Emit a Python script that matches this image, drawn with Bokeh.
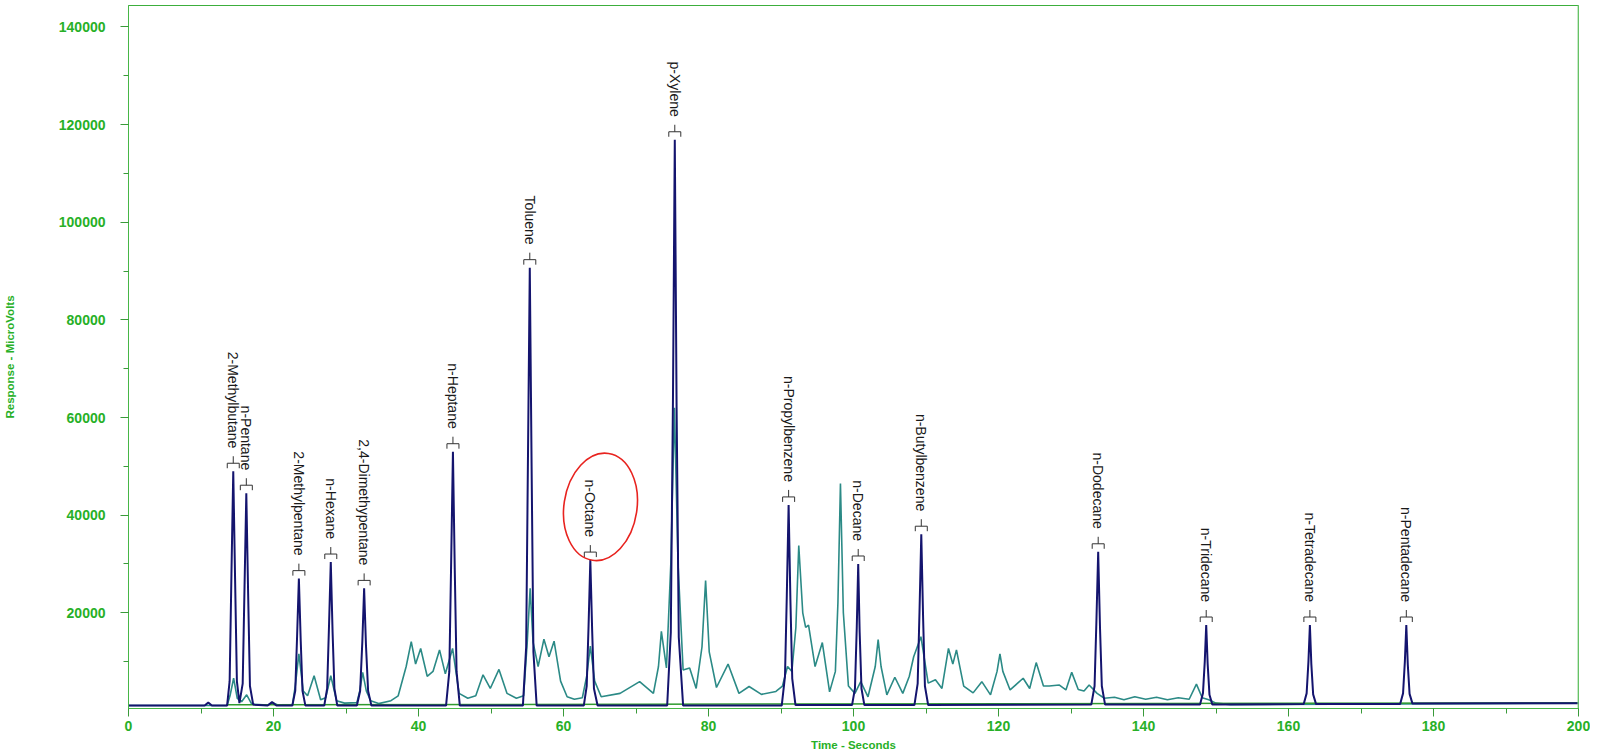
import math
from bokeh.plotting import figure
from bokeh.models import Range1d, SingleIntervalTicker, Span, NumeralTickFormatter
from bokeh.core.properties import value
from bokeh.embed import file_html
from bokeh.resources import INLINE

# ---------------- data ----------------
# standard mix trace (navy): retention time (s) vs response (uV)
navy_t = [0, 10.5, 11.0, 11.5, 13.6, 13.95, 14.2, 14.45, 14.7, 14.95, 15.3, 15.75, 16.0, 16.25, 16.5, 16.75, 17.2,
          19.2, 19.8, 20.4,
          22.6, 23.0, 23.25, 23.5, 23.75, 24.0, 24.4,
          27.0, 27.4, 27.65, 27.9, 28.15, 28.4, 28.8,
          31.5, 31.95, 32.25, 32.5, 32.75, 33.05, 33.5,
          43.8, 44.25, 44.5, 44.75, 45.0, 45.25, 45.7,
          54.4, 54.85, 55.1, 55.35, 55.6, 55.85, 56.3,
          62.8, 63.2, 63.45, 63.7, 63.95, 64.2, 64.7,
          74.3, 74.8, 75.1, 75.35, 75.6, 75.9, 76.5,
          90.1, 90.55, 90.8, 91.05, 91.3, 91.55, 92.0,
          99.8, 100.2, 100.45, 100.65, 100.85, 101.1, 101.5,
          108.4, 108.85, 109.1, 109.35, 109.6, 109.85, 110.3,
          132.8, 133.25, 133.5, 133.75, 134.0, 134.25, 134.7,
          147.8, 148.2, 148.45, 148.65, 148.85, 149.1, 149.5,
          162.1, 162.5, 162.75, 162.95, 163.15, 163.4, 163.8,
          175.4, 175.8, 176.05, 176.25, 176.45, 176.7, 177.1, 200]
navy_y = [1000, 1000, 1600, 1000, 1000, 6000, 28000, 49000, 27000, 6000, 1500, 5500, 25000, 44500, 24000, 5000, 1200,
          1000, 1700, 1000,
          1000, 4000, 15000, 27000, 14500, 4000, 1000,
          1000, 4500, 17000, 30400, 16000, 4500, 1000,
          1000, 4000, 14000, 25000, 13500, 4000, 1000,
          1000, 8000, 30000, 53000, 29000, 8000, 1000,
          1000, 13000, 52000, 90700, 50000, 12000, 1000,
          1000, 5000, 17000, 30800, 16500, 4500, 1000,
          1000, 16000, 64000, 116900, 62000, 15000, 1000,
          1000, 7000, 23500, 42100, 22500, 6500, 1100,
          1100, 4500, 17000, 30000, 16000, 4500, 1100,
          1100, 5500, 20000, 36100, 19000, 5000, 1100,
          1200, 5000, 18000, 32500, 17000, 5000, 1200,
          1200, 3500, 10000, 17500, 9500, 3200, 1200,
          1300, 3500, 10000, 17500, 9500, 3300, 1300,
          1300, 3500, 10000, 17500, 9500, 3400, 1400, 1500]

# sample trace (teal)
teal_t = [0, 13.6, 14.0, 14.5, 15.0, 15.6, 16.3, 17.0, 19.2, 19.9, 20.6, 22.6, 23.0, 23.5,
          24.1, 24.7, 25.6, 26.5, 27.2, 27.9, 28.7, 29.8, 31.5, 31.9, 32.3, 32.8, 33.4, 34.5,
          36.2, 37.2, 38.3, 39.0, 39.6, 40.3, 41.2, 42.0, 42.9, 43.7, 44.7, 45.6, 46.8, 47.9,
          48.9, 49.9, 51.1, 52.2, 53.5, 54.5, 55.0, 55.4, 55.8, 56.5, 57.3, 58.0, 58.7, 59.6,
          60.5, 61.5, 62.6, 63.2, 63.7, 64.3, 65.2, 67.8, 70.5, 72.4, 73.1, 73.5, 74.2, 74.8,
          75.3, 75.8, 76.5, 77.4, 78.3, 79.1, 79.6, 80.1, 81.1, 82.7, 84.2, 85.6, 87.3, 89.3,
          90.2, 90.9, 91.5, 92.05, 92.45, 93.0, 93.4, 93.8, 94.7, 95.7, 96.7, 97.5, 97.85, 98.2,
          98.6, 99.3, 100.2, 101.0, 102.0, 103.0, 103.4, 103.8, 104.6, 105.7, 106.8, 107.7, 108.3, 109.3,
          110.3, 111.3, 112.2, 113.1, 113.7, 114.2, 115.2, 116.5, 117.7, 118.9, 119.8, 120.2, 120.6, 121.6,
          123.4, 124.3, 125.2, 126.2, 127.0, 128.4, 129.3, 130.1, 131.0, 131.8, 132.5, 133.6,
          134.6, 136.0, 137.3, 138.8, 140.3, 141.8, 143.3, 144.8, 146.3, 147.3, 148.1, 149.0,
          150.0, 152.0, 200.0]
teal_y = [1000, 1000, 3000, 6600, 2500, 1800, 3200, 1300, 1100, 1600, 1100, 1100, 5000, 11600,
          4000, 3000, 7100, 2200, 2600, 7100, 2000, 1500, 1600, 4000, 7800, 4000, 2000, 1400,
          2000, 3000, 9000, 14100, 9500, 12700, 7000, 8000, 12400, 7500, 12700, 3500, 2500, 3000,
          7300, 4500, 8400, 3500, 2500, 3000, 14000, 25000, 14000, 9000, 14600, 11000, 14200, 6000,
          2800, 2300, 2600, 7000, 13200, 6000, 2800, 3500, 5900, 3500, 9000, 16200, 8700, 30000,
          62000, 30000, 8300, 8700, 4500, 13000, 26600, 12000, 4700, 9500, 3500, 4900, 3300, 3900,
          5000, 9000, 8000, 17000, 33800, 20000, 17000, 17500, 9000, 13900, 3800, 8000, 22000, 46500,
          20000, 5000, 3500, 5900, 2800, 9000, 14500, 9000, 3200, 6800, 3500, 7000, 11000, 15100,
          5600, 6300, 4500, 12700, 9500, 12400, 5000, 3600, 5900, 3200, 8000, 11600, 8000, 4200,
          6600, 4500, 9800, 5000, 5000, 5200, 4200, 7800, 4300, 4000, 5200, 3500,
          2500, 2700, 2200, 2800, 2300, 2700, 2200, 2600, 2300, 5400, 2600, 2200,
          1500, 1200, 1500]

# integration baseline (green)
base_t = [13.5, 200]
base_y = [1150, 1550]

# peak labels
label_names = ["2-Methylbutane", "n-Pentane", "2-Methylpentane", "n-Hexane",
               "2,4-Dimethypentane", "n-Heptane", "Toluene", "n-Octane", "p-Xylene",
               "n-Propylbenzene", "n-Decane", "n-Butylbenzene", "n-Dodecane",
               "n-Tridecane", "n-Tetradecane", "n-Pentadecane"]
label_t = [14.45, 16.25, 23.5, 27.9, 32.5, 44.75, 55.35, 63.7, 75.35, 91.05, 100.65,
           109.35, 133.75, 148.65, 162.95, 176.25]
label_y = [49000, 44500, 27000, 30400, 25000, 53000, 90700, 30800, 116900, 42100, 30000,
           36100, 32500, 17500, 17500, 17500]

x_ticks_step = 20
y_ticks_step = 20000

# ---------------- figure ----------------
X0, X1 = 0, 200
Y0, Y1 = 400, 144400
FRAME_W, FRAME_H = 1450, 703

p = figure(frame_width=FRAME_W, frame_height=FRAME_H, output_backend="svg", toolbar_location=None,
           x_range=Range1d(X0, X1), y_range=Range1d(Y0, Y1),
           min_border_left=121, min_border_right=12, min_border_top=5, min_border_bottom=0)
p.background_fill_color = "white"
p.border_fill_color = "white"
p.xgrid.visible = False
p.ygrid.visible = False
p.outline_line_color = "#3cae3c"
p.outline_line_width = 1

GREEN = "#27b027"
AXIS_GREEN = "#46b646"
for ax in (p.xaxis[0], p.yaxis[0]):
    ax.axis_line_color = AXIS_GREEN
    ax.major_tick_line_color = "#3a9a3a"
    ax.minor_tick_line_color = "#3a9a3a"
    ax.major_tick_in = 0
    ax.minor_tick_in = 0
    ax.major_tick_out = 8
    ax.minor_tick_out = 5
    ax.major_label_text_color = GREEN
    ax.major_label_text_font = "Liberation Sans"
    ax.major_label_text_font_style = "bold"
    ax.major_label_text_font_size = "14px"
    ax.axis_label_text_color = GREEN
    ax.axis_label_text_font = "Liberation Sans"
    ax.axis_label_text_font_style = "bold"
    ax.axis_label_text_font_size = "11.5px"

p.xaxis.ticker = SingleIntervalTicker(interval=x_ticks_step, num_minor_ticks=2)
p.yaxis.ticker = SingleIntervalTicker(interval=y_ticks_step, num_minor_ticks=2)
p.yaxis.formatter = NumeralTickFormatter(format="0")
p.xaxis.formatter = NumeralTickFormatter(format="0")
p.xaxis.axis_label = "Time - Seconds"
p.yaxis.axis_label = "Response - MicroVolts"
p.xaxis.major_label_standoff = 4
p.xaxis.axis_label_standoff = 5
p.yaxis.major_label_standoff = 15
p.yaxis.axis_label_standoff = 40
p.yaxis.major_label_orientation = "horizontal"

# right border
p.add_layout(Span(location=X1, dimension="height", line_color="#8fd68f", line_width=2))

# traces
p.line(teal_t, teal_y, line_color="#2b8a86", line_width=1.6)
p.line(base_t, base_y, line_color="#2f9a2f", line_width=1.5)
p.line(navy_t, navy_y, line_color="#14146e", line_width=2)

# label brackets (pixel offsets converted to data units)
dx = (X1 - X0) / FRAME_W
dy = (Y1 - Y0) / FRAME_H
bx0, bx1, by0, by1 = [], [], [], []
for t, y in zip(label_t, label_y):
    bar = y + 8 * dy
    bx0.append(t - 6 * dx); bx1.append(t + 6 * dx); by0.append(bar); by1.append(bar)
    bx0.append(t - 6 * dx); bx1.append(t - 6 * dx); by0.append(bar); by1.append(bar - 5 * dy)
    bx0.append(t + 6 * dx); bx1.append(t + 6 * dx); by0.append(bar); by1.append(bar - 5 * dy)
    bx0.append(t); bx1.append(t); by0.append(bar); by1.append(bar + 7 * dy)
p.segment(x0=bx0, y0=by0, x1=bx1, y1=by1, line_color="#333333", line_width=1)

p.text(x=label_t, y=label_y, text=label_names, angle=-math.pi / 2,
       text_align="right", text_baseline="middle", y_offset=-23,
       text_font=value("Liberation Sans"), text_font_size="14px", text_color="#1a1a1a")

# hand-drawn red circle around the n-Octane label
i_oct = label_names.index("n-Octane")
p.ellipse(x=[label_t[i_oct] + 1.4], y=[label_y[i_oct] + 10900], width=73, height=108,
          width_units="screen", height_units="screen", angle=-0.15,
          fill_color=None, line_color="#e8231f", line_width=1.6)

open("out.html", "w").write(file_html(p, INLINE))
